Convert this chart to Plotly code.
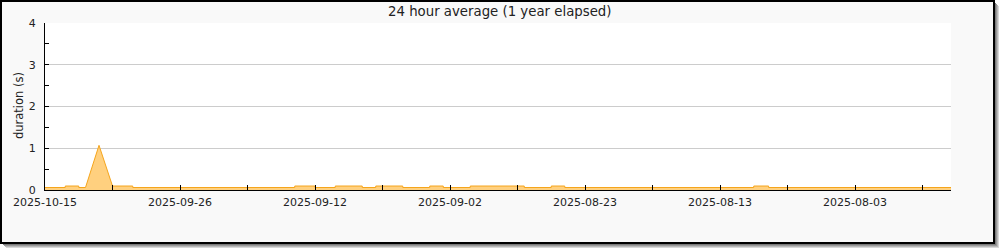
import plotly.graph_objects as go

# ---- data (x = sample index along the axis, y = duration in seconds) ----
sample_pos = [0, 1.5, 1.5, 2.5, 2.5, 3, 4, 5, 6.5, 6.5,
              18.5, 18.5, 20, 20, 21.5, 21.5, 23.5, 23.5, 24.5, 24.5,
              26.5, 26.5, 28.5, 28.5, 29.5, 29.5, 31.5, 31.5, 35.5, 35.5,
              37.5, 37.5, 38.5, 38.5, 52.5, 52.5, 53.6, 53.6, 67.11]
duration = [0.06, 0.06, 0.095, 0.095, 0.06, 0.06, 1.07, 0.095, 0.095, 0.06,
            0.06, 0.095, 0.095, 0.06, 0.06, 0.095, 0.095, 0.06, 0.06, 0.095,
            0.095, 0.06, 0.06, 0.095, 0.095, 0.06, 0.06, 0.095, 0.095, 0.06,
            0.06, 0.095, 0.095, 0.06, 0.06, 0.095, 0.095, 0.06, 0.06]
tick_pos = [0, 10, 20, 30, 40, 50, 60]
tick_labels = ["2025-10-15", "2025-09-26", "2025-09-12", "2025-09-02",
               "2025-08-23", "2025-08-13", "2025-08-03"]
y_ticks = [0, 1, 2, 3, 4]
x_max = 67.11
y_max = 4

# ---- layout geometry (pixels) ----
W, H = 1000, 250
L, R, T, B = 45, 951, 23, 190
pw, ph = R - L, B - T


def px(x):
    return (x - L) / pw


def py(y):
    return (B - y) / ph


FONT = "DejaVu Sans"
TXT = "#222222"

fig = go.Figure()
fig.add_trace(go.Scatter(
    x=sample_pos, y=duration, mode="lines",
    line=dict(color="#f5a51c", width=1),
    fill="tozeroy", fillcolor="#ffd07f",
    hoverinfo="skip", showlegend=False,
))

shapes = []
# shadow
for off, col in [(6, "#d8d8d8"), (5, "#b8b8b8"), (4, "#999999"), (3, "#7a7a7a")]:
    shapes.append(dict(type="rect", xref="paper", yref="paper", layer="below",
                       x0=px(off), x1=px(994 + off - 1), y0=py(243 + off - 1), y1=py(off),
                       fillcolor=col, line=dict(width=0)))
# frame
shapes.append(dict(type="rect", xref="paper", yref="paper", layer="below",
                   x0=px(1), x1=px(994), y0=py(243), y1=py(1),
                   fillcolor="#f9f9f9", line=dict(color="black", width=2)))
# plot area
shapes.append(dict(type="rect", xref="paper", yref="paper", layer="below",
                   x0=0, x1=1, y0=0, y1=1,
                   fillcolor="white", line=dict(width=0)))

fig.update_layout(
    width=W, height=H,
    margin=dict(l=L, r=W - R, t=T, b=H - B, pad=0),
    paper_bgcolor="white", plot_bgcolor="white",
    font=dict(family=FONT, size=11, color=TXT),
    shapes=shapes,
    showlegend=False,
    annotations=[
        dict(text="24 hour average (1 year elapsed)", xref="paper", yref="paper",
             x=px(499), y=py(11), xanchor="center", yanchor="middle",
             showarrow=False, font=dict(family=FONT, size=13.3, color=TXT)),
        dict(text="duration (s)", xref="paper", yref="paper",
             x=px(19), y=py(106), xanchor="center", yanchor="middle",
             textangle=-90, showarrow=False,
             font=dict(family=FONT, size=11.5, color=TXT)),
    ],
)

fig.update_xaxes(
    range=[0, x_max], tickmode="array", tickvals=tick_pos, ticktext=tick_labels,
    ticks="inside", ticklen=5, tickcolor="black", tickwidth=1,
    showline=True, linecolor="black", linewidth=1,
    showgrid=False, zeroline=False,
    minor=dict(ticks="inside", ticklen=5, tickcolor="black", dtick=5, tick0=0, showgrid=False),
    tickfont=dict(family=FONT, size=11, color=TXT),
    ticklabelstandoff=2,
)
fig.update_yaxes(
    range=[0, y_max], tickmode="array", tickvals=y_ticks,
    ticks="inside", ticklen=4, tickcolor="black", tickwidth=1,
    showline=True, linecolor="black", linewidth=1,
    showgrid=True, gridcolor="#cccccc", gridwidth=1, zeroline=False,
    minor=dict(ticks="inside", ticklen=4, tickcolor="black", dtick=0.5, tick0=0, showgrid=False),
    tickfont=dict(family=FONT, size=11, color=TXT),
    ticklabelstandoff=6,
)

fig.write_html("out.html")
